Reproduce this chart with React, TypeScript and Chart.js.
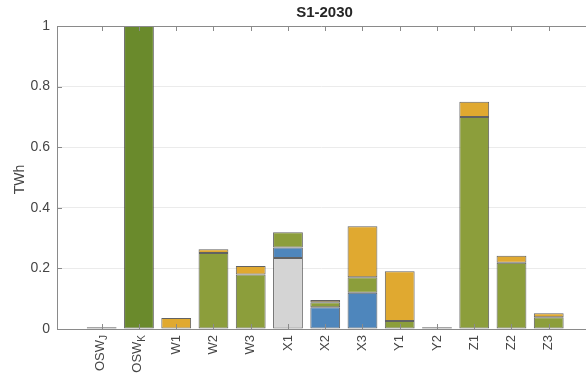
import React, { useEffect, useRef } from "react";
import { Chart, registerables } from "chart.js";

Chart.register(...registerables);

// Categories (text after "_" is drawn as a subscript)
const categories = ["OSW_J", "OSW_K", "W1", "W2", "W3", "X1", "X2", "X3", "Y1", "Y2", "Z1", "Z2", "Z3"];

// Stacked series, bottom to top (TWh)
const grayValues = [0.006, null, null, null, null, 0.234, null, null, null, 0.006, null, null, null];
const blueValues = [null, null, null, null, null, 0.035, 0.072, 0.12, null, null, null, null, null];
const darkGreenValues = [null, 1.0, null, null, null, null, null, null, null, null, null, null, null];
const oliveValues = [null, null, null, 0.251, 0.18, 0.05, 0.016, 0.051, 0.026, null, 0.7, 0.219, 0.039];
const orangeValues = [null, null, 0.036, 0.012, 0.028, null, 0.008, 0.168, 0.165, null, 0.05, 0.023, 0.013];

const yTicks = [0, 0.2, 0.4, 0.6, 0.8, 1];
const title = "S1-2030";
const yTitle = "TWh";

const AXIS_COLOR = "#8a8a8a";
const TEXT_COLOR = "#454545";
const EDGE = "rgba(45,45,45,0.75)";
const FONT = "'Liberation Sans', Arial, Helvetica, sans-serif";

function toPoints(values: (number | null)[]) {
  const pts: { x: number; y: number }[] = [];
  values.forEach((v, i) => {
    if (v !== null && v !== undefined) pts.push({ x: i + 1, y: v });
  });
  return pts;
}

const matlabPlugin = {
  id: "matlabAxes",
  afterDraw(chart: any) {
    const { ctx, chartArea } = chart;
    const xs = chart.scales.x;
    const ys = chart.scales.y;
    const { left, right, top, bottom } = chartArea;
    ctx.save();
    // axis box lines
    ctx.strokeStyle = AXIS_COLOR;
    ctx.lineWidth = 1;
    ctx.beginPath();
    ctx.moveTo(left + 0.5, top);
    ctx.lineTo(left + 0.5, bottom + 0.5);
    ctx.lineTo(right, bottom + 0.5);
    ctx.moveTo(left, top + 0.5);
    ctx.lineTo(right, top + 0.5);
    ctx.stroke();
    // x ticks (inside, bottom and top)
    ctx.beginPath();
    categories.forEach((_, i) => {
      const px = Math.round(xs.getPixelForValue(i + 1)) + 0.5;
      ctx.moveTo(px, bottom);
      ctx.lineTo(px, bottom - 5);
      ctx.moveTo(px, top);
      ctx.lineTo(px, top + 5);
    });
    // y ticks (inside, left)
    yTicks.forEach((v) => {
      const py = Math.round(ys.getPixelForValue(v)) + 0.5;
      ctx.moveTo(left, py);
      ctx.lineTo(left + 5, py);
    });
    ctx.stroke();

    // x tick labels, rotated, with subscripts
    ctx.fillStyle = TEXT_COLOR;
    categories.forEach((cat, i) => {
      const px = xs.getPixelForValue(i + 1);
      const parts = cat.split("_");
      const main = parts[0];
      const sub = parts[1] || "";
      ctx.save();
      ctx.translate(px, bottom + 6);
      ctx.rotate(-Math.PI / 2);
      ctx.textBaseline = "middle";
      ctx.textAlign = "left";
      ctx.font = `13px ${FONT}`;
      const wMain = ctx.measureText(main).width;
      ctx.font = `10px ${FONT}`;
      const wSub = sub ? ctx.measureText(sub).width : 0;
      const total = wMain + wSub;
      ctx.font = `13px ${FONT}`;
      ctx.fillText(main, -total, sub ? -1.5 : 0);
      if (sub) {
        ctx.font = `10px ${FONT}`;
        ctx.fillText(sub, -wSub, 3);
      }
      ctx.restore();
    });

    // title
    ctx.fillStyle = "#262626";
    ctx.font = `bold 15px ${FONT}`;
    ctx.textAlign = "center";
    ctx.textBaseline = "middle";
    ctx.fillText(title, (left + right) / 2 + 3, 13);

    // y axis title
    ctx.save();
    ctx.translate(20, (top + bottom) / 2 + 2);
    ctx.rotate(-Math.PI / 2);
    ctx.fillStyle = TEXT_COLOR;
    ctx.font = `14px ${FONT}`;
    ctx.textAlign = "center";
    ctx.textBaseline = "middle";
    ctx.fillText(yTitle, 0, 0);
    ctx.restore();

    ctx.restore();
  },
};

export default function App() {
  const canvasRef = useRef<HTMLCanvasElement | null>(null);

  useEffect(() => {
    if (!canvasRef.current) return;
    const mk = (label: string, values: (number | null)[], color: string) => ({
      label,
      data: toPoints(values),
      backgroundColor: color,
      borderColor: EDGE,
      borderWidth: 1,
      borderSkipped: false,
      categoryPercentage: 1,
      barPercentage: 0.8,
    });
    const chart = new Chart(canvasRef.current, {
      type: "bar",
      data: {
        datasets: [
          mk("gray", grayValues, "#d4d4d4"),
          mk("blue", blueValues, "#4e86bc"),
          mk("darkGreen", darkGreenValues, "#6a8a2c"),
          mk("olive", oliveValues, "#8c9e3b"),
          mk("orange", orangeValues, "#e0a930"),
        ] as any,
      },
      options: {
        animation: false,
        responsive: false,
        maintainAspectRatio: false,
        layout: { padding: { top: 26, right: 0, bottom: 0, left: 0 } },
        plugins: {
          legend: { display: false },
          tooltip: { enabled: false },
          title: { display: false },
        },
        scales: {
          x: {
            type: "linear",
            stacked: true,
            offset: false,
            min: -0.2,
            max: 14,
            grid: { display: false, offset: false },
            border: { display: false },
            ticks: { display: false },
            afterFit: (scale: any) => {
              scale.height = 46;
            },
          },
          y: {
            type: "linear",
            stacked: true,
            min: 0,
            max: 1,
            afterBuildTicks: (scale: any) => {
              scale.ticks = yTicks.map((v) => ({ value: v }));
            },
            grid: {
              drawTicks: false,
              color: (c: any) =>
                c.tick && (c.tick.value === 0 || c.tick.value === 1) ? "rgba(0,0,0,0)" : "#ebebeb",
            },
            border: { display: false },
            ticks: {
              padding: 7,
              color: TEXT_COLOR,
              font: { size: 14, family: FONT },
              callback: (v: any) => String(v),
            },
            afterFit: (scale: any) => {
              scale.width = 57;
            },
          },
        },
      } as any,
      plugins: [matlabPlugin],
    });
    return () => chart.destroy();
  }, []);

  return (
    <div style={{ position: "absolute", left: 0, top: 0, width: 586, height: 375, background: "#fff" }}>
      <canvas ref={canvasRef} width={586} height={375} style={{ display: "block" }} />
    </div>
  );
}
